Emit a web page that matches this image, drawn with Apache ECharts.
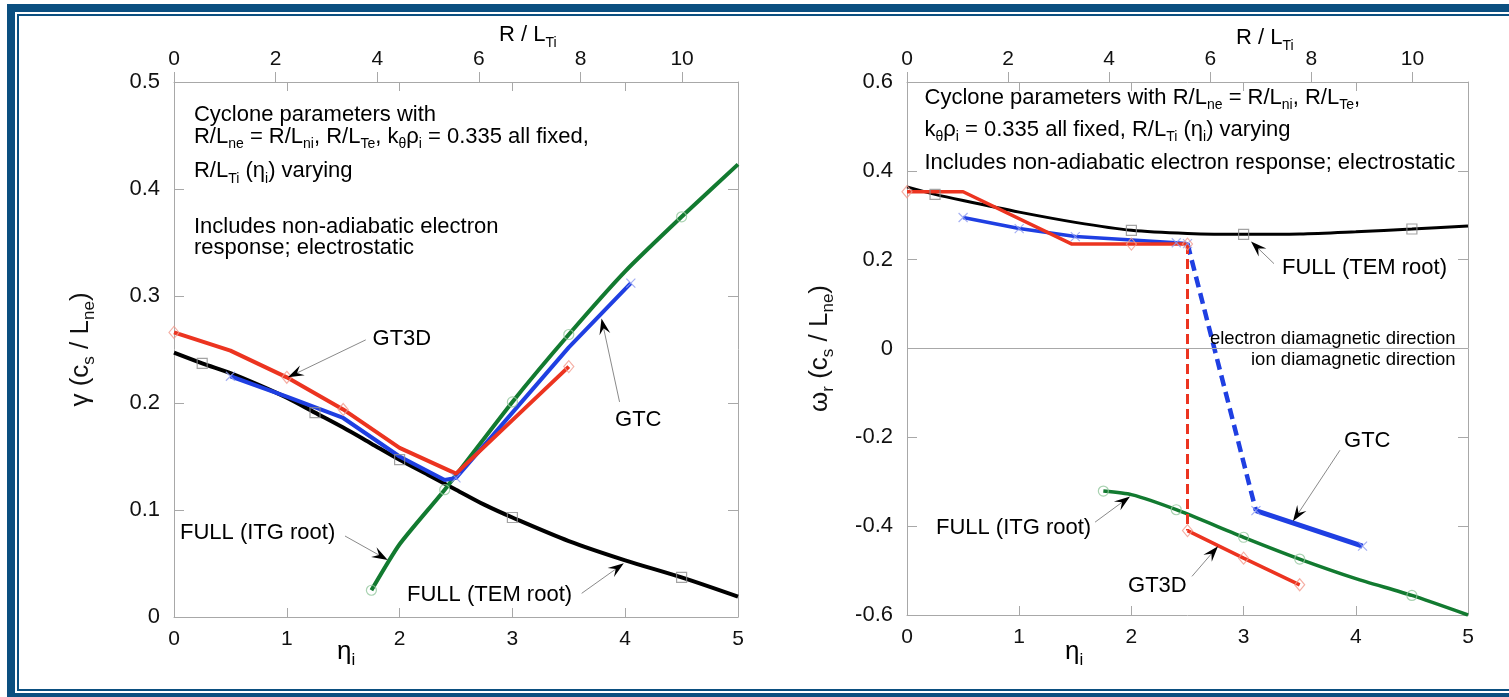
<!DOCTYPE html>
<html>
<head>
<meta charset="utf-8">
<title>Cyclone eta_i scan: growth rate and real frequency</title>
<script src="https://cdn.jsdelivr.net/npm/echarts@6/dist/echarts.min.js"></script>
<style>
  html, body { margin: 0; padding: 0; background: #fff; }
  #chart { width: 1509px; height: 697px; }
</style>
</head>
<body>
<div id="chart"></div>
<script>
const FONT = '"Liberation Sans", Arial, Helvetica, sans-serif';
const RL_PER_ETA = 2.22; // R/L_Ti = eta_i * R/L_n

// ---- left panel : gamma (c_s / L_ne)
const etaTemG = [0, 0.25, 0.5, 0.75, 1, 1.25, 1.5, 1.75, 2, 2.25, 2.5, 2.75, 3, 3.5, 4, 4.5, 5];
const gammaTem = [0.247, 0.237, 0.228, 0.217, 0.205, 0.191, 0.177, 0.162, 0.147, 0.133, 0.119, 0.105, 0.093, 0.071, 0.053, 0.037, 0.019];
const marksTemG = [0.25, 1.25, 2, 3, 4.5];

const etaItgG = [1.75, 2.0, 2.4, 3.0, 3.5, 4.0, 4.5, 5.0];
const gammaItg = [0.025, 0.068, 0.119, 0.201, 0.264, 0.323, 0.374, 0.423];
const marksItgG = [1.75, 2.4, 3.0, 3.5, 4.5];

const etaGt3dG = [0, 0.5, 1, 1.5, 2, 2.5, 3, 3.5];
const gammaGt3d = [0.266, 0.249, 0.224, 0.194, 0.158, 0.134, 0.184, 0.234];
const marksGt3dG = [0, 1, 1.5, 3.5];

const etaGtcG = [0.5, 1, 1.5, 2, 2.4, 2.5, 3, 3.5, 4.05];
const gammaGtc = [0.225, 0.206, 0.186, 0.15, 0.128, 0.13, 0.191, 0.252, 0.312];
const marksGtcG = [0.5, 2.5, 4.05];

// ---- right panel : omega_r (c_s / L_ne)
const etaTemW = [0, 0.25, 0.5, 1, 1.5, 2, 2.5, 3, 3.5, 4, 4.5, 5];
const omegaTem = [0.364, 0.347, 0.333, 0.307, 0.284, 0.266, 0.259, 0.257, 0.258, 0.263, 0.269, 0.276];
const marksTemW = [0.25, 1.25, 2, 3, 4.5];

const etaItgW = [1.75, 2.0, 2.4, 3.0, 3.5, 4.0, 4.5, 5.0];
const omegaItg = [-0.321, -0.329, -0.363, -0.425, -0.474, -0.518, -0.556, -0.6];
const marksItgW = [1.75, 2.4, 3.0, 3.5, 4.5];

const etaGt3dW1 = [0, 0.5, 1.47, 2.0, 2.5];
const omegaGt3d1 = [0.353, 0.353, 0.235, 0.235, 0.235];
const etaGt3dJump = [2.5, 2.5];
const omegaGt3dJump = [0.235, -0.41];
const etaGt3dW2 = [2.5, 3.0, 3.5];
const omegaGt3d2 = [-0.41, -0.472, -0.532];
const marksGt3dW = [0, 2.0, 2.5, 3.0, 3.5];

const etaGtcW1 = [0.5, 1.0, 1.5, 2.4, 2.5];
const omegaGtc1 = [0.295, 0.27, 0.252, 0.238, 0.236];
const etaGtcJump = [2.5, 3.11];
const omegaGtcJump = [0.236, -0.365];
const etaGtcW2 = [3.11, 4.06];
const omegaGtc2 = [-0.365, -0.445];
const marksGtcW = [0.5, 1.0, 1.5, 2.4, 2.5, 3.11, 4.06];

// ---- tick ranges
const etaTicks = { min: 0, max: 5, interval: 1 };
const rlTicks = { min: 0, max: 5 * RL_PER_ETA, interval: 2 };
const gammaTicks = { min: 0, max: 0.5, interval: 0.1 };
const omegaTicks = { min: -0.6, max: 0.6, interval: 0.2 };

const RED = "#ec3420";
const BLUE = "#1f3fe2";
const GREEN = "#127a30";
const BLACK = "#000";
const AXIS = "#a8a8a8";

const RICH = {
  a: { fontFamily: FONT, fontSize: 22, color: "#111", lineHeight: 30, verticalAlign: "middle" },
  s: { fontFamily: FONT, fontSize: 14, color: "#111", lineHeight: 15, verticalAlign: "bottom" },
  m: { fontFamily: FONT, fontSize: 18.5, color: "#111", lineHeight: 24, verticalAlign: "middle" },
  ya: { fontFamily: FONT, fontSize: 26, color: "#111", lineHeight: 34, verticalAlign: "middle" },
  ys: { fontFamily: FONT, fontSize: 17, color: "#111", lineHeight: 17, verticalAlign: "bottom" },
};

const zip = (xs, ys) => xs.map((x, i) => [x, ys[i]]);
const pick = (xs, ys, marks) => zip(xs, ys).filter((p) => marks.includes(p[0]));

const SYM = {
  rect: { symbol: "rect", size: 10, stroke: "#8c8c8c" },
  circle: { symbol: "circle", size: 10, stroke: "#93c79d" },
  diamond: { symbol: "diamond", size: [10, 12], stroke: "#f29a8c" },
  cross: { symbol: "path://M0,0L10,10M0,10L10,0", size: 9, stroke: "#8e9cf0" },
};

function lineSeries(xi, yi, data, color, opt = {}) {
  return {
    type: "line",
    xAxisIndex: xi,
    yAxisIndex: yi,
    data,
    showSymbol: false,
    smooth: opt.smooth || false,
    lineStyle: {
      color,
      width: opt.width || 4,
      type: opt.dash || "solid",
      cap: "butt",
    },
    z: opt.z || 2,
    silent: true,
    animation: false,
    markLine: opt.markLine,
  };
}

function markSeries(xi, yi, data, kind) {
  const s = SYM[kind];
  return {
    type: "scatter",
    xAxisIndex: xi,
    yAxisIndex: yi,
    data,
    symbol: s.symbol,
    symbolSize: s.size,
    itemStyle: { color: "rgba(0,0,0,0)", borderColor: s.stroke, borderWidth: 1.2 },
    z: 6,
    silent: true,
    animation: false,
  };
}

function xAxesFor(gi) {
  const base = {
    gridIndex: gi,
    type: "value",
    splitLine: { show: false },
    axisLine: { show: true, onZero: false, lineStyle: { color: AXIS, width: 1 } },
  };
  return [
    Object.assign({}, base, etaTicks, {
      position: "bottom",
      axisTick: { show: true, inside: true, length: 9, lineStyle: { color: AXIS } },
      axisLabel: { fontFamily: FONT, fontSize: 21, color: "#111", margin: 12 },
    }),
    Object.assign({}, base, rlTicks, {
      position: "top",
      axisTick: { show: true, inside: false, length: 10, lineStyle: { color: AXIS } },
      axisLabel: {
        fontFamily: FONT,
        fontSize: 21,
        color: "#111",
        margin: 12,
        showMaxLabel: false,
        formatter: (v) => (Math.abs(v % 2) < 1e-6 ? String(v) : ""),
      },
    }),
    Object.assign({}, base, etaTicks, {
      position: "top",
      axisLine: { show: false, onZero: false },
      axisTick: { show: true, inside: true, length: 9, lineStyle: { color: AXIS } },
      axisLabel: { show: false },
    }),
  ];
}

function yAxesFor(gi, ticks, name, nameGap) {
  const base = {
    gridIndex: gi,
    type: "value",
    splitLine: { show: false },
    axisLine: { show: true, onZero: false, lineStyle: { color: AXIS, width: 1 } },
    axisTick: { show: true, inside: true, length: 10, lineStyle: { color: AXIS } },
  };
  return [
    Object.assign({}, base, ticks, {
      position: "left",
      axisLabel: { fontFamily: FONT, fontSize: 22, color: "#111", margin: 14 },
      name,
      nameLocation: "middle",
      nameGap,
      nameRotate: 90,
      nameTextStyle: { rich: RICH },
    }),
    Object.assign({}, base, ticks, {
      position: "right",
      axisLabel: { show: false },
    }),
  ];
}

const chart = echarts.init(document.getElementById("chart"), null, { renderer: "canvas" });

const option = {
  backgroundColor: "#fff",
  animation: false,
  grid: [
    { left: 174, top: 82, width: 564, height: 535 },
    { left: 907, top: 82, width: 561, height: 533 },
  ],
  xAxis: [...xAxesFor(0), ...xAxesFor(1)],
  yAxis: [
    ...yAxesFor(0, gammaTicks, "{ya|γ (c}{ys|s}{ya| / L}{ys|ne}{ya|)}", 76),
    ...yAxesFor(1, omegaTicks, "{ya|ω}{ys|r}{ya| (c}{ys|s}{ya| / L}{ys|ne}{ya|)}", 70),
  ],
  series: [
    // left
    lineSeries(0, 0, zip(etaTemG, gammaTem), BLACK, { smooth: 0.3 }),
    lineSeries(0, 0, zip(etaItgG, gammaItg), GREEN, { smooth: 0.2, z: 3 }),
    lineSeries(0, 0, zip(etaGtcG, gammaGtc), BLUE, { z: 4 }),
    lineSeries(0, 0, zip(etaGt3dG, gammaGt3d), RED, { z: 5 }),
    markSeries(0, 0, pick(etaTemG, gammaTem, marksTemG), "rect"),
    markSeries(0, 0, pick(etaItgG, gammaItg, marksItgG), "circle"),
    markSeries(0, 0, pick(etaGtcG, gammaGtc, marksGtcG), "cross"),
    markSeries(0, 0, pick(etaGt3dG, gammaGt3d, marksGt3dG), "diamond"),
    // right
    lineSeries(3, 2, zip(etaTemW, omegaTem), BLACK, {
      smooth: 0.3,
      width: 3,
      markLine: {
        silent: true,
        symbol: "none",
        label: { show: false },
        lineStyle: { color: AXIS, width: 1, type: "solid" },
        data: [{ yAxis: 0 }],
      },
    }),
    lineSeries(3, 2, zip(etaItgW, omegaItg), GREEN, { smooth: 0.2, z: 3, width: 3.5 }),
    lineSeries(3, 2, zip(etaGtcW1, omegaGtc1), BLUE, { z: 4, width: 3.5 }),
    lineSeries(3, 2, zip(etaGtcJump, omegaGtcJump), BLUE, { z: 4, dash: [11, 6], width: 4.5 }),
    lineSeries(3, 2, zip(etaGtcW2, omegaGtc2), BLUE, { z: 4, width: 5 }),
    lineSeries(3, 2, zip(etaGt3dW1, omegaGt3d1), RED, { z: 5, width: 3.5 }),
    lineSeries(3, 2, zip(etaGt3dJump, omegaGt3dJump), RED, { z: 5, dash: [10, 5], width: 3 }),
    lineSeries(3, 2, zip(etaGt3dW2, omegaGt3d2), RED, { z: 5, width: 3.5 }),
    markSeries(3, 2, pick(etaTemW, omegaTem, marksTemW), "rect"),
    markSeries(3, 2, pick(etaItgW, omegaItg, marksItgW), "circle"),
    markSeries(3, 2, pick([...etaGtcW1, ...etaGtcW2], [...omegaGtc1, ...omegaGtc2], marksGtcW), "cross"),
    markSeries(3, 2, pick([...etaGt3dW1, ...etaGt3dW2], [...omegaGt3d1, ...omegaGt3d2], marksGt3dW), "diamond"),
  ],
};

chart.setOption(option);

/**
 * Annotations, anchored in data coordinates
 */
const L = { xAxisIndex: 0, yAxisIndex: 0 };
const R = { xAxisIndex: 3, yAxisIndex: 2 };

const textNotes = [
  [L, [0.177, 0.469], "{a|Cyclone parameters with}"],
  [L, [0.177, 0.449], "{a|R/L}{s|ne}{a| = R/L}{s|ni}{a|, R/L}{s|Te}{a|, k}{s|θ}{a|ρ}{s|i}{a| = 0.335 all fixed,}"],
  [L, [0.177, 0.417], "{a|R/L}{s|Ti}{a| (η}{s|i}{a|) varying}"],
  [L, [0.177, 0.365], "{a|Includes non-adiabatic electron}"],
  [L, [0.177, 0.345], "{a|response; electrostatic}"],
  [L, [1.76, 0.26], "{a|GT3D}"],
  [L, [3.91, 0.184], "{a|GTC}"],
  [L, [0.053, 0.0785], "{a|FULL (ITG root)}"],
  [L, [2.066, 0.0206], "{a|FULL (TEM root)}"],
  [R, [0.156, 0.565], "{a|Cyclone parameters with R/L}{s|ne}{a| = R/L}{s|ni}{a|, R/L}{s|Te}{a|,}"],
  [R, [0.156, 0.493], "{a|k}{s|θ}{a|ρ}{s|i}{a| = 0.335 all fixed, R/L}{s|Ti}{a| (η}{s|i}{a|) varying}"],
  [R, [0.156, 0.418], "{a|Includes non-adiabatic electron response; electrostatic}"],
  [R, [3.342, 0.182], "{a|FULL (TEM root)}"],
  [R, [3.895, -0.209], "{a|GTC}"],
  [R, [0.258, -0.403], "{a|FULL (ITG root)}"],
  [R, [1.97, -0.535], "{a|GT3D}"],
];
const rightNotes = [
  [R, [4.89, 0.0225], "{m|electron diamagnetic direction}"],
  [R, [4.89, -0.026], "{m|ion diamagnetic direction}"],
];
// [finder, from, to(tip)]
const arrowNotes = [
  [L, [1.70, 0.259], [1.01, 0.224]],
  [L, [3.95, 0.201], [3.79, 0.279]],
  [L, [1.516, 0.0757], [1.895, 0.0533]],
  [L, [3.614, 0.0221], [3.988, 0.0502]],
  [R, [3.271, 0.191], [3.066, 0.241]],
  [R, [3.859, -0.229], [3.44, -0.389]],
  [R, [1.676, -0.391], [1.988, -0.333]],
  [R, [2.54, -0.513], [2.772, -0.445]],
];

function textEl(finder, at, text, align) {
  const p = chart.convertToPixel(finder, at);
  return {
    type: "text",
    x: p[0],
    y: p[1],
    z: 100,
    silent: true,
    style: { text, rich: RICH, align, verticalAlign: "middle" },
  };
}

function arrowEls(finder, from, to) {
  const p0 = chart.convertToPixel(finder, from);
  const p1 = chart.convertToPixel(finder, to);
  const ang = Math.atan2(p1[1] - p0[1], p1[0] - p0[0]);
  const c = Math.cos(ang);
  const s = Math.sin(ang);
  const pt = (dx, dy) => [p1[0] + dx * c - dy * s, p1[1] + dx * s + dy * c];
  const back = pt(-9, 0);
  return [
    {
      type: "line",
      z: 100,
      silent: true,
      shape: { x1: p0[0], y1: p0[1], x2: back[0], y2: back[1] },
      style: { stroke: "#8a8a8a", lineWidth: 1 },
    },
    {
      type: "polygon",
      z: 101,
      silent: true,
      shape: { points: [pt(0, 0), pt(-16, -5.5), pt(-10, 0), pt(-16, 5.5)] },
      style: { fill: "#000" },
    },
  ];
}

function plainText(x, y, text, align) {
  return {
    type: "text",
    x,
    y,
    z: 100,
    silent: true,
    style: { text, rich: RICH, align: align || "left", verticalAlign: "middle" },
  };
}

const FRAME = "#0b4f80";
const frameEls = [
  { type: "rect", shape: { x: 7, y: 4, width: 1502, height: 8 }, style: { fill: FRAME } },
  { type: "rect", shape: { x: 7, y: 4, width: 8, height: 693 }, style: { fill: FRAME } },
  { type: "rect", shape: { x: 7, y: 693, width: 1502, height: 4 }, style: { fill: FRAME } },
  { type: "rect", shape: { x: 17, y: 14, width: 1492, height: 2 }, style: { fill: FRAME } },
  { type: "rect", shape: { x: 17, y: 14, width: 2, height: 677 }, style: { fill: FRAME } },
  { type: "rect", shape: { x: 17, y: 689, width: 1492, height: 2 }, style: { fill: FRAME } },
].map((e) => Object.assign({ silent: true, z: 200 }, e));

const elements = [
  ...frameEls,
  ...textNotes.map(([f, at, t]) => textEl(f, at, t, "left")),
  ...rightNotes.map(([f, at, t]) => textEl(f, at, t, "right")),
  ...arrowNotes.flatMap(([f, a, b]) => arrowEls(f, a, b)),
  // axis titles
  plainText(499, 35, "{a|R / L}{s|Ti}"),
  plainText(1236, 38, "{a|R / L}{s|Ti}"),
  plainText(337, 652, "{ya|η}{ys|i}"),
  plainText(1065, 652, "{ya|η}{ys|i}"),
];

chart.setOption({ graphic: elements });
</script>
</body>
</html>
